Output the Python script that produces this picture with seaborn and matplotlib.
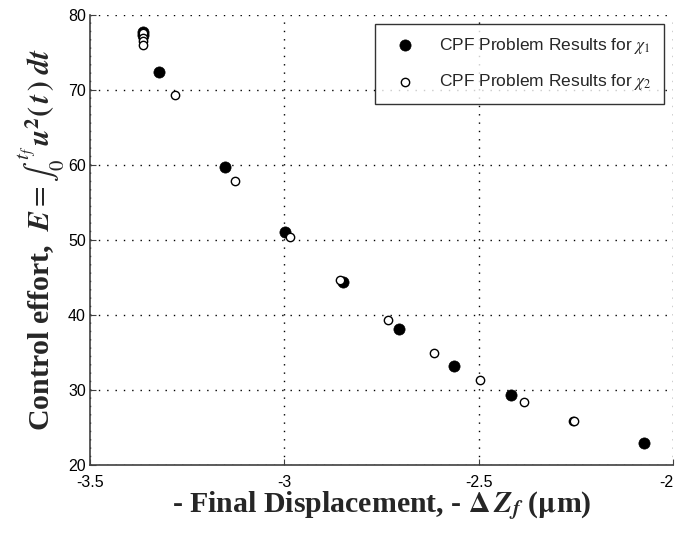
import matplotlib
matplotlib.use("Agg")
import matplotlib.pyplot as plt
import seaborn as sns
import pandas as pd

# Data
x_chi1 = [-3.364, -3.364, -3.322, -3.153, -2.998, -2.850, -2.704, -2.563, -2.417, -2.074]
y_chi1 = [77.8, 77.3, 72.4, 59.7, 51.1, 44.4, 38.2, 33.2, 29.3, 22.9]
x_chi2 = [-3.364, -3.364, -3.364, -3.364, -3.281, -3.128, -2.985, -2.857, -2.733, -2.614,
          -2.497, -2.383, -2.258, -2.256]
y_chi2 = [77.6, 77.0, 76.5, 76.0, 69.3, 57.9, 50.4, 44.7, 39.3, 35.0,
          31.4, 28.4, 25.9, 25.85]
label_chi1 = r"CPF Problem Results for $\chi_1$"
label_chi2 = r"CPF Problem Results for $\chi_2$"
x_ticks = [-3.5, -3.0, -2.5, -2.0]
x_tick_labels = ["-3.5", "-3", "-2.5", "-2"]
y_ticks = [20, 30, 40, 50, 60, 70, 80]

df1 = pd.DataFrame({"x": x_chi1, "y": y_chi1})
df2 = pd.DataFrame({"x": x_chi2, "y": y_chi2})

sns.set_style("white")
plt.rcParams["font.family"] = ["Liberation Sans", "DejaVu Sans"]
plt.rcParams["mathtext.fontset"] = "stix"

fig = plt.figure(figsize=(6.78, 5.35), dpi=100)
ax = fig.add_axes([90 / 678, 70 / 535, 583 / 678, 450 / 535])

sns.scatterplot(data=df1, x="x", y="y", ax=ax, color="black", edgecolor="black",
                s=65, marker="o", linewidth=0.5, label=label_chi1, zorder=3)
sns.scatterplot(data=df2, x="x", y="y", ax=ax, facecolor="white", edgecolor="black",
                s=36, marker="o", linewidth=1.0, label=label_chi2, zorder=4)

ax.set_xlim(-3.5, -2.0)
ax.set_ylim(20, 80)
ax.set_xticks(x_ticks)
ax.set_xticklabels(x_tick_labels)
ax.set_yticks(y_ticks)
ax.grid(True, color="black", linestyle=(0, (1, 5)), linewidth=1.0)
ax.set_axisbelow(True)
for side in ["top", "right"]:
    ax.spines[side].set_visible(False)
for side in ["left", "bottom"]:
    ax.spines[side].set_color("#404040")
    ax.spines[side].set_linewidth(1.2)
ax.tick_params(direction="in", length=4, color="#404040", labelsize=11.5,
               labelcolor="black", pad=3, left=True, bottom=True)
ax.tick_params(axis="x", pad=7)
ax.get_xticklabels()[-1].set_horizontalalignment("right")

ax.set_xlabel(r"- Final Displacement, - $\mathbf{\Delta}\,\boldsymbol{Z}_{\boldsymbol{f}}$ ($\mathbf{\mu}$m)",
              fontsize=21.5, fontweight="bold", family=["Liberation Serif"], labelpad=0)
ax.set_ylabel(r"Control effort,  $\boldsymbol{E} = \int_0^{t_f}\, \boldsymbol{u}^{\mathbf{2}}\boldsymbol{(\,t\,)\ dt}$",
              fontsize=21.5, fontweight="bold", family=["Liberation Serif"], labelpad=1)

leg = ax.legend(loc="upper right", frameon=True, fontsize=12.5, fancybox=False,
                edgecolor="black", borderpad=0.7, labelspacing=0.95,
                handletextpad=1.0, borderaxespad=0.5)
leg.get_frame().set_linewidth(1.0)

fig.savefig("out.png", dpi=100)
